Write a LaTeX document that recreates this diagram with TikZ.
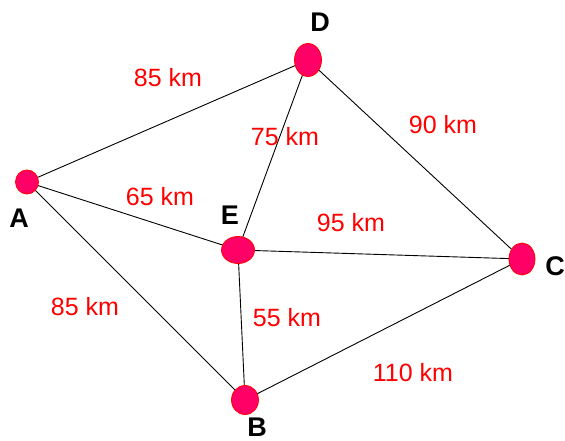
\documentclass[tikz,border=0pt]{standalone}
\usepackage{fontspec}
\setmainfont{Liberation Sans}
\usepackage{tikz}
\usetikzlibrary{shapes}

\definecolor{townfill}{HTML}{FF0066}
\definecolor{townline}{HTML}{FF0000}
\definecolor{distred}{HTML}{FF0000}

\begin{document}
\begin{tikzpicture}[x=1pt,y=-1pt,
            town/.style={draw=townline,fill=townfill,ellipse,inner sep=0,line width=.8pt},
            townlab/.style={font=\fontsize{27}{30}\selectfont\bfseries,inner sep=0},
            dist/.style={text=distred,font=\fontsize{25}{28}\selectfont,inner sep=0},
            link/.style={draw,line width=.9pt}
          ]
          \useasboundingbox (0,0) rectangle (565,441);

          %links
          \coordinate (cA) at (27,182);
          \coordinate (cD) at (308,60);
          \coordinate (cE) at (238,250);
          \coordinate (cC) at (522,259);
          \coordinate (cB) at (245,400);
          \path[link]
          (cA) edge (cD)
          (cA) edge (cE)
          (cA) edge (cB)
          (cD) edge (cE)
          (cD) edge (cC)
          (cE) edge (cC)
          (cE) edge (cB)
          (cB) edge (cC)
          ;

          %towns
          \node[town,minimum width=23,minimum height=24] (A) at (cA) {};
          \node[town,minimum width=27,minimum height=33] (D) at (cD) {};
          \node[town,minimum width=33,minimum height=27] (E) at (cE) {};
          \node[town,minimum width=26,minimum height=32] (C) at (cC) {};
          \node[town,minimum width=27,minimum height=29] (B) at (cB) {};

          %labels
          \node[townlab] (labA) at (19,218) {A};
          \node[townlab] (labD) at (320,22) {D};
          \node[townlab] (labE) at (230,215) {E};
          \node[townlab] (labC) at (555,266) {C};
          \node[townlab] (labB) at (257,427) {B};

          %distances
          \node[dist] (dAD) at (168,78) {85 km};
          \node[dist] (dDE) at (285,137) {75 km};
          \node[dist] (dDC) at (443,125) {90 km};
          \node[dist] (dAE) at (160,197) {65 km};
          \node[dist] (dEC) at (351,223) {95 km};
          \node[dist] (dAB) at (85,307) {85 km};
          \node[dist] (dEB) at (287,318) {55 km};
          \node[dist] (dBC) at (413,373) {110 km};
      \end{tikzpicture}
\end{document}
